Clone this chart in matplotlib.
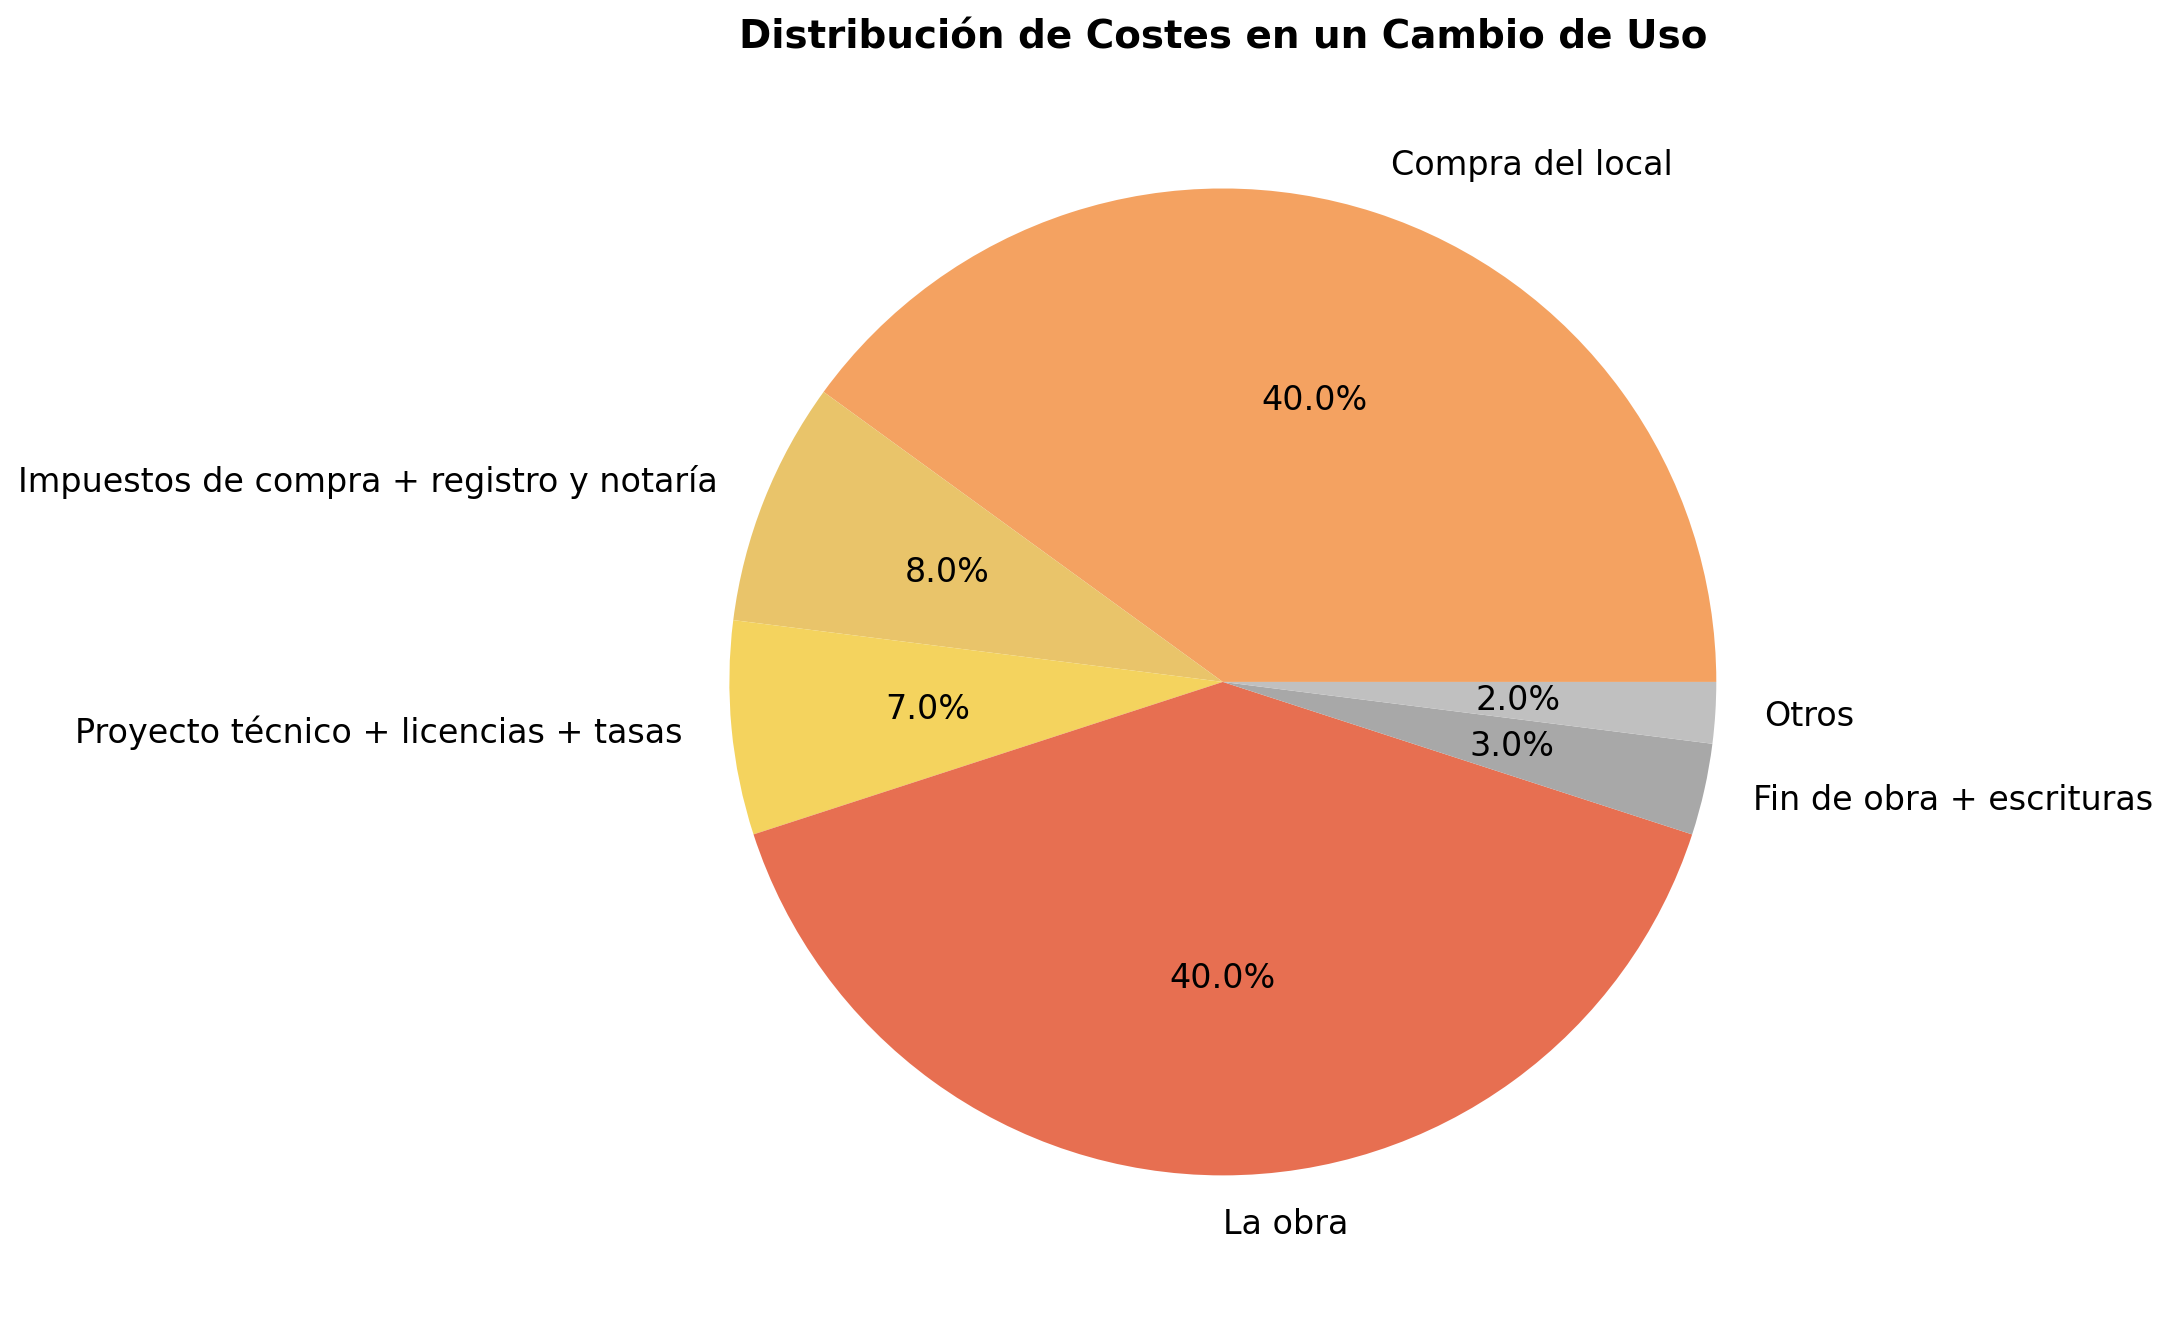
import matplotlib.pyplot as plt

# ---- DATA ----
labels = [
    "Compra del local",
    "Impuestos de compra + registro y notaría",
    "Proyecto técnico + licencias + tasas",
    "La obra",
    "Fin de obra + escrituras",
    "Otros",
]
sizes = [40, 8, 7, 40, 3, 2]
colors = ["#F4A261", "#E9C46A", "#F4D35E", "#E76F51", "#A8A8A8", "#C0C0C0"]

# ---- PLOT ----
fig = plt.figure(figsize=(10.86, 6.59), dpi=200)
ax = fig.add_axes([0.163, 0.0146, 0.8, 0.936])
ax.pie(sizes, labels=labels, colors=colors, autopct="%1.1f%%",
       startangle=0, textprops={"fontsize": 12})
ax.set_aspect("equal")
ax.set_title("Distribución de Costes en un Cambio de Uso",
             fontsize=14, fontweight="bold")

fig.savefig("out.png", dpi=200)
